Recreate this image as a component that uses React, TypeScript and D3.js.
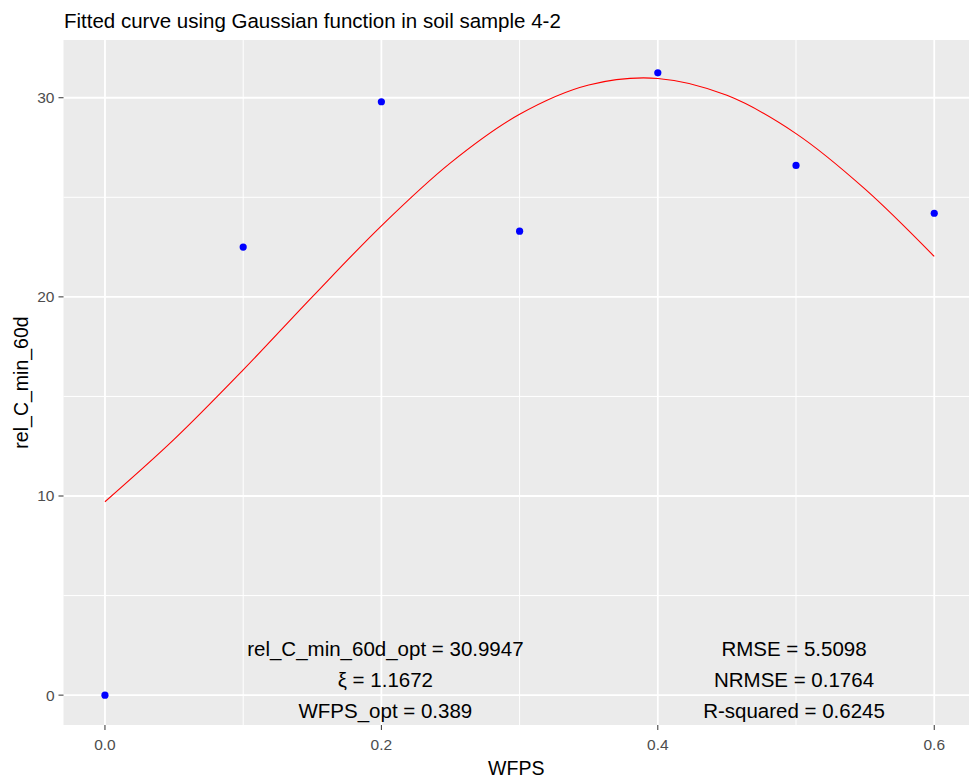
import React, { useEffect } from "react";
import * as d3 from "d3";

const W = 969;
const H = 782;

const title = "Fitted curve using Gaussian function in soil sample 4-2";
const xLabel = "WFPS";
const yLabel = "rel_C_min_60d";

// observed points
const obsX = [0, 0.1, 0.2, 0.3, 0.4, 0.5, 0.6];
const obsY = [0, 22.5, 29.8, 23.3, 31.25, 26.6, 24.2];

// fitted curve readings
const fitX = [0, 0.05, 0.1, 0.15, 0.2, 0.25, 0.3, 0.35, 0.4, 0.45, 0.5, 0.55, 0.6];
const fitY = [9.71, 12.84, 16.33, 20.0, 23.57, 26.73, 29.17, 30.64, 30.97, 30.12, 28.2, 25.41, 22.03];

const xTicks = [0, 0.2, 0.4, 0.6];
const xMinor = [0.1, 0.3, 0.5];
const yTicks = [0, 10, 20, 30];
const yMinor = [5, 15, 25];

const leftNotes = ["rel_C_min_60d_opt = 30.9947", "ξ = 1.1672", "WFPS_opt = 0.389"];
const rightNotes = ["RMSE = 5.5098", "NRMSE = 0.1764", "R-squared = 0.6245"];
const leftNoteX = 0.2;
const rightNoteX = 0.5;

const FONT = "'Liberation Sans', Arial, sans-serif";

export default function App() {
  useEffect(() => {
    document.body.style.margin = "0";
  }, []);

  const pL = 63.5, pR = 975.7, pT = 40, pB = 725;
  const x = d3.scaleLinear().domain([-0.03, 0.63]).range([pL, pR]);
  const y = d3.scaleLinear().domain([-1.5, 32.9]).range([pB, pT]);

  const line = d3
    .line<number>()
    .x((_, i) => x(fitX[i]))
    .y((d) => y(d))
    .curve(d3.curveCatmullRom);

  const noteBase = [656, 687, 718];

  return (
    <svg width={W} height={H} style={{ display: "block" }} fontFamily={FONT}>
      <rect x={0} y={0} width={W} height={H} fill="#ffffff" />
      <text x={64} y={28} fontSize={20.5} fill="#000">{title}</text>
      <g>
        <rect x={pL} y={pT} width={W - pL} height={pB - pT} fill="#EBEBEB" />
        {yMinor.map((v) => (
          <line key={"ym" + v} x1={pL} x2={W} y1={y(v)} y2={y(v)} stroke="#fff" strokeWidth={1} />
        ))}
        {xMinor.map((v) => (
          <line key={"xm" + v} y1={pT} y2={pB} x1={x(v)} x2={x(v)} stroke="#fff" strokeWidth={1} />
        ))}
        {yTicks.map((v) => (
          <line key={"yM" + v} x1={pL} x2={W} y1={y(v)} y2={y(v)} stroke="#fff" strokeWidth={1.8} />
        ))}
        {xTicks.map((v) => (
          <line key={"xM" + v} y1={pT} y2={pB} x1={x(v)} x2={x(v)} stroke="#fff" strokeWidth={1.8} />
        ))}
        <path d={line(fitY) || ""} fill="none" stroke="#FF0000" strokeWidth={1.1} />
        {obsX.map((v, i) => (
          <circle key={"p" + i} cx={x(v)} cy={y(obsY[i])} r={3.6} fill="#0000FF" />
        ))}
        {leftNotes.map((t, i) => (
          <text key={"ln" + i} x={x(leftNoteX) + 4} y={noteBase[i]} textAnchor="middle" fontSize={20.5} fill="#000">{t}</text>
        ))}
        {rightNotes.map((t, i) => (
          <text key={"rn" + i} x={x(rightNoteX) - 2} y={noteBase[i]} textAnchor="middle" fontSize={20.5} fill="#000">{t}</text>
        ))}
      </g>
      {yTicks.map((v) => (
        <g key={"yt" + v}>
          <line x1={pL - 5} x2={pL} y1={y(v)} y2={y(v)} stroke="#333" strokeWidth={1} />
          <text x={pL - 9} y={y(v)} dy="0.35em" textAnchor="end" fontSize={15.5} fill="#4D4D4D">{v}</text>
        </g>
      ))}
      {xTicks.map((v) => (
        <g key={"xt" + v}>
          <line y1={pB} y2={pB + 5} x1={x(v)} x2={x(v)} stroke="#333" strokeWidth={1} />
          <text x={x(v)} y={750} textAnchor="middle" fontSize={15.5} fill="#4D4D4D">{d3.format(".1f")(v)}</text>
        </g>
      ))}
      <text x={(pL + W) / 2} y={775} textAnchor="middle" fontSize={19.5} fill="#000">{xLabel}</text>
      <text transform={`translate(28, ${(pT + pB) / 2}) rotate(-90)`} textAnchor="middle" fontSize={19.5} fill="#000">{yLabel}</text>
    </svg>
  );
}
